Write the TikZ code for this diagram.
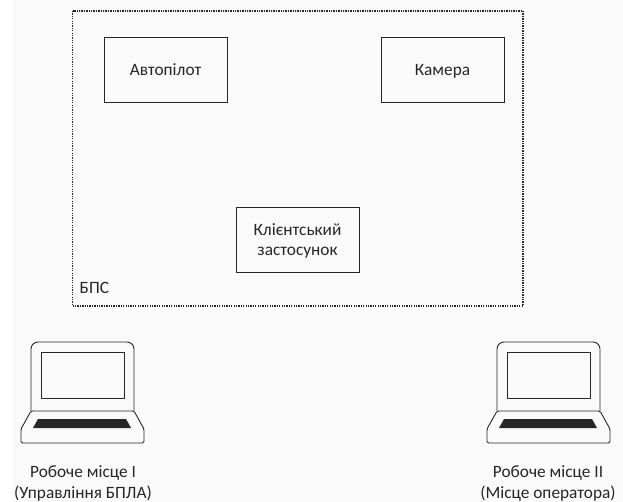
\documentclass[tikz,border=0pt]{standalone}
\usepackage{fontspec}
\setmainfont{Carlito}
\newcommand{\lowerby}[2]{\raisebox{-#1}[\height][\depth]{#2}}
\tikzset{
  x=1pt,y=-1pt,
  boxnode/.style={draw=black!85,line width=0.9pt,minimum width=123pt,minimum height=65pt,align=center,inner sep=0pt,font=\fontsize{17.3}{20.5}\selectfont,text=black!85},
  caption/.style={align=center,inner sep=0pt,font=\fontsize{17.3}{21}\selectfont,text=black!85},
  lap/.style={draw=black!85,line width=0.9pt,line join=round},
  laptop/.pic={
    \draw[lap,rounded corners=7pt] (31,411) -- (31,342) -- (134,342) -- (134,411);
    \draw[lap] (41,352) rectangle (124,398);
    \draw[lap,rounded corners=1.5pt] (31,411) -- (134,411) -- (144,429) -- (144,443) -- (21,443) -- (21,429) -- cycle;
    \fill[black!85] (38,419) -- (126,419) -- (131,428) -- (33,428) -- cycle;
  }
}
\begin{document}
\begin{tikzpicture}
\useasboundingbox (0,0) rectangle (623,502);
\fill[white] (0,0) rectangle (623,502);
\fill[black!2] (13,0) rectangle (623,502);
\draw[black!85,line width=1.2pt,dash pattern=on 1.3pt off 1.1pt] (72.5,11) rectangle (523,306);
\node[boxnode] (avto) at (165.5,69.5) {\lowerby{2pt}{\strut Автопілот}};
\node[boxnode] (kam) at (442.5,69.5) {\lowerby{2pt}{\strut Камера}};
\node[boxnode] (klient) at (297.5,239.5) {\lowerby{1.5pt}{Клієнтський}\\\lowerby{1.5pt}{застосунок}};
\node[inner sep=0pt,anchor=west,font=\fontsize{17.3}{20}\selectfont,text=black!85] (bps) at (79.5,288) {БПС};
\pic {laptop};
\pic at (466,0) {laptop};
\node[caption] (r1) at (83,483) {Робоче місце І\\(Управління БПЛА)};
\node[caption] (r2) at (548,483) {Робоче місце ІІ\\(Місце оператора)};
\end{tikzpicture}
\end{document}
